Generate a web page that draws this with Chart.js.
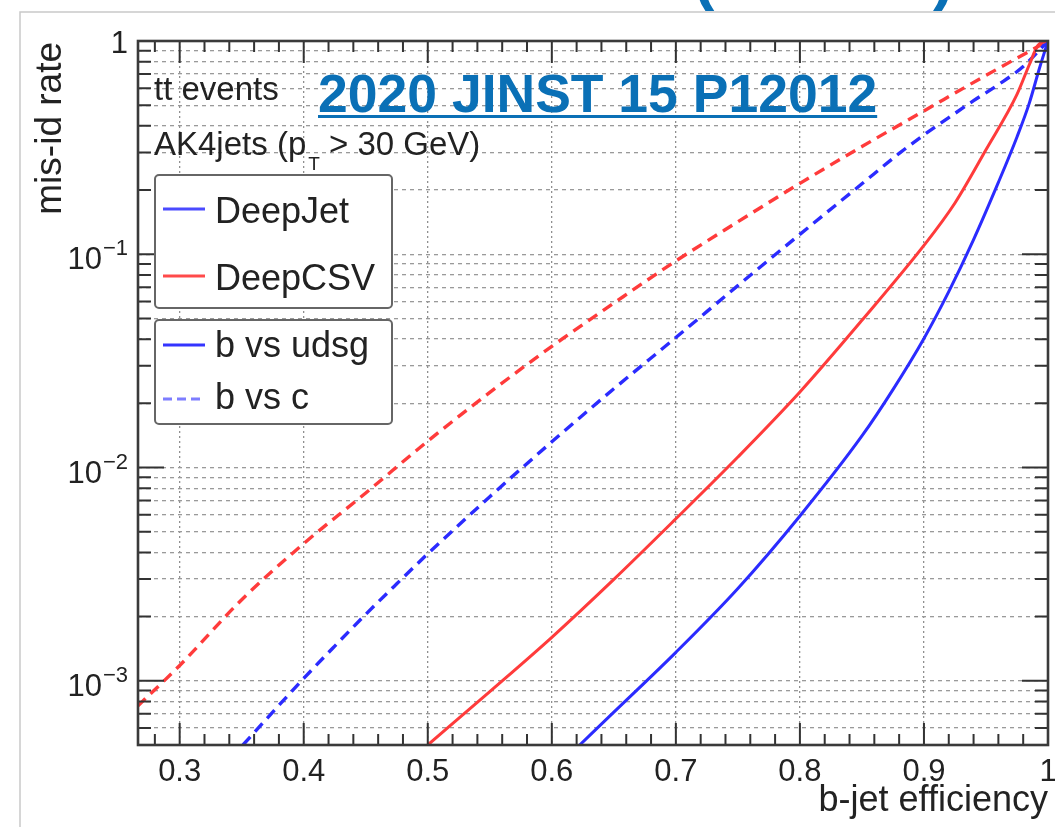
<!DOCTYPE html>
<html>
<head>
<meta charset="utf-8">
<script src="https://cdn.jsdelivr.net/npm/chart.js@4.4.0/dist/chart.umd.min.js"></script>
<style>
  html, body { margin: 0; padding: 0; background: #fff; overflow: hidden; }
  canvas { display: block; }
</style>
</head>
<body>
<canvas id="roc" width="1055" height="827"></canvas>
<script>
// b-tagging performance in tt events: light/charm mis-id rate vs b-jet efficiency

// DeepJet, b vs udsg
const deepJetUdsgEff = [0.6225, 0.65, 0.70, 0.75, 0.80, 0.85, 0.875, 0.90, 0.92, 0.94, 0.96, 0.975, 0.985, 0.993, 1.0];
const deepJetUdsgMis = [5.0e-4, 7.13e-4, 1.36e-3, 2.71e-3, 5.93e-3, 0.01406, 0.0232, 0.0403, 0.0668, 0.1172, 0.2173, 0.3548, 0.5129, 0.7413, 1.0];

// DeepCSV, b vs udsg
const deepCsvUdsgEff = [0.50, 0.55, 0.60, 0.65, 0.70, 0.75, 0.80, 0.85, 0.90, 0.925, 0.95, 0.975, 0.985, 0.992, 1.0];
const deepCsvUdsgMis = [5.0e-4, 8.9e-4, 1.6e-3, 2.99e-3, 5.75e-3, 0.0112, 0.0226, 0.049, 0.110, 0.174, 0.309, 0.562, 0.776, 0.955, 1.0];

// DeepJet, b vs c
const deepJetCEff = [0.351, 0.375, 0.40, 0.425, 0.45, 0.475, 0.50, 0.55, 0.60, 0.65, 0.70, 0.75, 0.80, 0.85, 0.88, 0.90, 0.92, 0.94, 0.96, 0.98, 1.0];
const deepJetCMis = [5.0e-4, 7.13e-4, 1.026e-3, 1.455e-3, 2.05e-3, 2.85e-3, 3.94e-3, 7.3e-3, 0.0132, 0.0234, 0.0407, 0.0713, 0.124, 0.214, 0.297, 0.363, 0.437, 0.525, 0.624, 0.759, 1.0];

// DeepCSV, b vs c
const deepCsvCEff = [0.266, 0.30, 0.35, 0.40, 0.45, 0.50, 0.55, 0.60, 0.65, 0.70, 0.75, 0.80, 0.85, 0.90, 0.95, 1.0];
const deepCsvCMis = [7.6e-4, 1.18e-3, 2.4e-3, 4.4e-3, 7.6e-3, 0.0133, 0.0225, 0.037, 0.059, 0.093, 0.142, 0.215, 0.32, 0.47, 0.69, 1.0];

// axis ranges and labels
const X_MIN = 0.2664, X_MAX = 1.0;
const Y_MIN = 5e-4, Y_MAX = 1.0;
const xTickValues = [0.3, 0.4, 0.5, 0.6, 0.7, 0.8, 0.9, 1.0];
const xTickLabels = ['0.3', '0.4', '0.5', '0.6', '0.7', '0.8', '0.9', '1'];
const yDecadeExponents = [0, -1, -2, -3];

const BLUE = '#2b2bff';
const RED = '#ff3b3b';
const FONT = '"Liberation Sans", Arial, Helvetica, sans-serif';

function points(eff, mis) {
  return eff.map((e, i) => ({ x: e, y: mis[i] }));
}

function curve(label, eff, mis, color, dashed) {
  return {
    label,
    data: points(eff, mis),
    borderColor: color,
    backgroundColor: color,
    borderWidth: dashed ? 3.4 : 3,
    borderDash: dashed ? [11, 7] : [],
    pointRadius: 0,
    cubicInterpolationMode: 'monotone',
    fill: false
  };
}

// frame, inward ticks, decade labels, annotations and legend boxes
const rootStyle = {
  id: 'rootStyle',
  afterDraw(chart) {
    const { ctx, chartArea: a, scales: { x, y } } = chart;
    ctx.save();

    // inward tick marks on all four sides
    ctx.strokeStyle = '#333';
    ctx.lineWidth = 2;
    ctx.beginPath();
    for (let i = 14; i < 50; i++) {
      const v = i / 50;
      if (v < X_MIN) continue;
      const px = x.getPixelForValue(v);
      const len = (i % 5 === 0) ? 22 : 11;
      ctx.moveTo(px, a.bottom); ctx.lineTo(px, a.bottom - len);
      ctx.moveTo(px, a.top); ctx.lineTo(px, a.top + len);
    }
    for (let e = -4; e <= 0; e++) {
      for (let m = 1; m <= 9; m++) {
        const v = m * Math.pow(10, e);
        if (v < Y_MIN * 0.999 || v > Y_MAX * 1.001) continue;
        const py = y.getPixelForValue(v);
        const len = m === 1 ? 26 : 13;
        ctx.moveTo(a.left, py); ctx.lineTo(a.left + len, py);
        ctx.moveTo(a.right, py); ctx.lineTo(a.right - len, py);
      }
    }
    ctx.stroke();

    // frame
    ctx.strokeStyle = '#3a3a3a';
    ctx.lineWidth = 2.6;
    ctx.strokeRect(a.left, a.top, a.right - a.left, a.bottom - a.top);

    // decade labels with superscript exponents
    ctx.fillStyle = '#222';
    const labelRight = a.left - 10;
    yDecadeExponents.forEach(ex => {
      const py = y.getPixelForValue(Math.pow(10, ex));
      if (ex === 0) {
        ctx.font = '31px ' + FONT;
        ctx.textAlign = 'right';
        ctx.textBaseline = 'alphabetic';
        ctx.fillText('1', labelRight, py + 12);
      } else {
        const sup = '\u2212' + String(-ex);
        ctx.font = '22px ' + FONT;
        ctx.textAlign = 'right';
        ctx.textBaseline = 'alphabetic';
        ctx.fillText(sup, labelRight, py + 1);
        const w = ctx.measureText(sup).width;
        ctx.font = '31px ' + FONT;
        ctx.fillText('10', labelRight - w - 1, py + 15);
      }
    });

    // axis titles
    ctx.font = '36px ' + FONT;
    ctx.fillStyle = '#222';
    ctx.textAlign = 'right';
    ctx.textBaseline = 'alphabetic';
    ctx.fillText('b-jet efficiency', a.right, 811);
    ctx.save();
    ctx.translate(61, a.top + 1);
    ctx.rotate(-Math.PI / 2);
    ctx.textAlign = 'right';
    ctx.font = '37px ' + FONT;
    ctx.fillText('mis-id rate', 0, 0);
    ctx.restore();

    // event and jet selection
    ctx.textAlign = 'left';
    ctx.font = '33px ' + FONT;
    ctx.fillText('tt events', 154, 100);
    const part1 = 'AK4jets (p';
    ctx.fillText(part1, 154, 155);
    let cx = 154 + ctx.measureText(part1).width;
    ctx.font = '19px ' + FONT;
    ctx.fillText('T', cx + 2, 170);
    cx += 2 + ctx.measureText('T').width;
    ctx.font = '33px ' + FONT;
    ctx.fillText(' > 30 GeV)', cx, 155);

    // reference
    ctx.fillStyle = '#0a70b6';
    ctx.font = 'bold 53.5px ' + FONT;
    const ref = '2020 JINST 15 P12012';
    ctx.fillText(ref, 318, 112);
    ctx.fillRect(318, 115, ctx.measureText(ref).width, 3);

    // legend boxes
    ctx.lineWidth = 2;
    ctx.strokeStyle = '#666';
    ctx.fillStyle = '#fff';
    [[155, 175, 237, 133], [155, 320, 237, 104]].forEach(([bx, by, bw, bh]) => {
      ctx.beginPath();
      ctx.roundRect(bx, by, bw, bh, 4);
      ctx.fill();
      ctx.stroke();
    });
    const entries = [
      { text: 'DeepJet', color: '#4a4aff', dash: [], ly: 209, ty: 223 },
      { text: 'DeepCSV', color: '#ff4a4a', dash: [], ly: 276, ty: 290 },
      { text: 'b vs udsg', color: '#3434ff', dash: [], ly: 345, ty: 357 },
      { text: 'b vs c', color: '#7d7dff', dash: [9, 5], ly: 399, ty: 409 }
    ];
    entries.forEach(en => {
      ctx.strokeStyle = en.color;
      ctx.lineWidth = 3;
      ctx.setLineDash(en.dash);
      ctx.beginPath();
      ctx.moveTo(163, en.ly);
      ctx.lineTo(205, en.ly);
      ctx.stroke();
      ctx.setLineDash([]);
      ctx.fillStyle = '#222';
      ctx.font = '36px ' + FONT;
      ctx.fillText(en.text, 215, en.ty);
    });

    // page edge and heading brackets above the figure
    ctx.strokeStyle = '#c9c9c9';
    ctx.lineWidth = 1.5;
    ctx.beginPath();
    ctx.moveTo(20, 827); ctx.lineTo(20, 12); ctx.lineTo(1055, 12);
    ctx.stroke();
    ctx.fillStyle = '#0a70b6';
    ctx.font = 'bold 64px ' + FONT;
    ctx.fillText('(', 693, -2);
    ctx.fillText(')', 933, -2);

    ctx.restore();
  }
};

new Chart(document.getElementById('roc'), {
  type: 'line',
  data: {
    datasets: [
      curve('DeepJet b vs udsg', deepJetUdsgEff, deepJetUdsgMis, BLUE, false),
      curve('DeepCSV b vs udsg', deepCsvUdsgEff, deepCsvUdsgMis, RED, false),
      curve('DeepJet b vs c', deepJetCEff, deepJetCMis, BLUE, true),
      curve('DeepCSV b vs c', deepCsvCEff, deepCsvCMis, RED, true)
    ]
  },
  options: {
    responsive: false,
    animation: false,
    devicePixelRatio: 1,
    layout: { padding: { left: 0, top: 41, right: 7, bottom: 0 } },
    plugins: { legend: { display: false }, tooltip: { enabled: false } },
    scales: {
      x: {
        type: 'linear',
        min: X_MIN,
        max: X_MAX,
        afterBuildTicks(scale) {
          scale.ticks = xTickValues.map(v => ({ value: v }));
        },
        afterFit(scale) {
          scale.height = 82;
          scale.paddingLeft = 0;
          scale.paddingRight = 0;
        },
        ticks: {
          autoSkip: false,
          maxRotation: 0,
          padding: 9,
          color: '#222',
          font: { family: FONT, size: 31 },
          callback(value) {
            const i = xTickValues.findIndex(v => Math.abs(v - value) < 1e-9);
            return i >= 0 ? xTickLabels[i] : '';
          }
        },
        grid: { color: '#8f8f8f', lineWidth: 1.3, drawTicks: false },
        border: { display: false, dash: [2, 3] }
      },
      y: {
        type: 'logarithmic',
        min: Y_MIN,
        max: Y_MAX,
        afterBuildTicks(scale) {
          const t = [];
          for (let e = -4; e <= 0; e++) {
            for (let m = 1; m <= 9; m++) {
              const v = m * Math.pow(10, e);
              if (v >= Y_MIN * 0.999 && v <= Y_MAX * 1.001) t.push({ value: v });
            }
          }
          scale.ticks = t;
        },
        afterFit(scale) {
          scale.width = 138;
        },
        ticks: { display: false },
        grid: { color: '#9a9a9a', lineWidth: 1.3, drawTicks: false },
        border: { display: false, dash: [4, 4] }
      }
    }
  },
  plugins: [rootStyle]
});
</script>
</body>
</html>
